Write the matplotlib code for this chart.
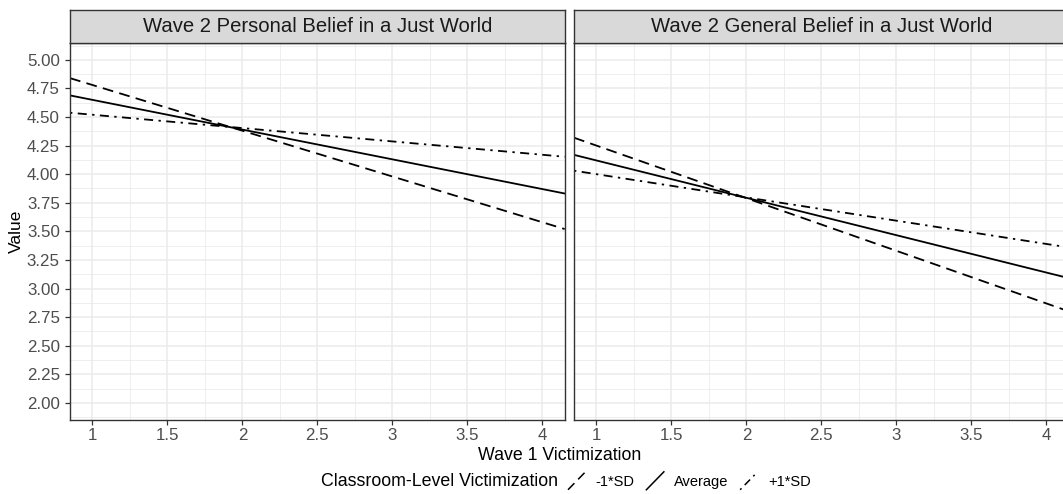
import matplotlib

matplotlib.use("Agg")
import matplotlib.pyplot as plt
from matplotlib.legend_handler import HandlerBase
from matplotlib.lines import Line2D
from matplotlib.ticker import MultipleLocator

plt.rcParams["font.family"] = ["Liberation Sans", "DejaVu Sans"]

# Data: predicted Wave 2 belief at Wave 1 victimization = 1 and = 4
PANELS = ["Wave 2 Personal Belief in a Just World", "Wave 2 General Belief in a Just World"]
X_POINTS = [1, 4]
GROUPS = ["-1*SD", "Average", "+1*SD"]
PERSONAL = {"-1*SD": [4.78, 3.58], "Average": [4.65, 3.87], "+1*SD": [4.52, 4.17]}
GENERAL = {"-1*SD": [4.25, 2.87], "Average": [4.12, 3.14], "+1*SD": [4.00, 3.39]}
X_TICKS = [1, 1.5, 2, 2.5, 3, 3.5, 4]
Y_TICKS = [2.00, 2.25, 2.50, 2.75, 3.00, 3.25, 3.50, 3.75, 4.00, 4.25, 4.50, 4.75, 5.00]

LINESTYLES = {
    "-1*SD": (0, (6, 3.5)),
    "Average": "-",
    "+1*SD": (0, (1.3, 3, 5, 3)),
}

W, H = 1063, 494
BORDER = "#333333"
GRID = "#EBEBEB"


class DiagonalHandler(HandlerBase):
    def create_artists(self, legend, orig_handle, xdescent, ydescent,
                       width, height, fontsize, trans):
        line = Line2D([-xdescent, -xdescent + width],
                      [-ydescent - height * 0.1, -ydescent + height * 1.1])
        self.update_prop(line, orig_handle, legend)
        line.set_transform(trans)
        return [line]


def px_box(left, top, width, height):
    return [left / W, 1 - (top + height) / H, width / W, height / H]


fig = plt.figure(figsize=(W / 100, H / 100), dpi=100)

panel_left = [70, 574]
panel_top, panel_bottom = 42.7, 420
panel_width = 494.7
strip_top = 10

axes = []
for i, (title, data) in enumerate(zip(PANELS, [PERSONAL, GENERAL])):
    ax = fig.add_axes(px_box(panel_left[i], panel_top, panel_width, panel_bottom - panel_top))
    ax.set_xlim(0.85, 4.15)
    ax.set_ylim(1.85, 5.15)
    ax.set_xticks(X_TICKS)
    ax.set_xticklabels([f"{t:g}" for t in X_TICKS])
    ax.set_yticks(Y_TICKS)
    ax.xaxis.set_minor_locator(MultipleLocator(0.25))
    ax.yaxis.set_minor_locator(MultipleLocator(0.125))
    ax.grid(True, which="major", color=GRID, linewidth=1.1, zorder=0)
    ax.grid(True, which="minor", color=GRID, linewidth=0.6, zorder=0)
    ax.set_axisbelow(True)
    ax.tick_params(which="minor", length=0)
    ax.tick_params(which="major", length=3.8, width=0.9, color=BORDER,
                   labelsize=12.2, labelcolor="#4D4D4D", pad=3.5)
    ax.tick_params(axis="x", pad=2.0)
    for spine in ax.spines.values():
        spine.set_color(BORDER)
        spine.set_linewidth(1.0)
    if i == 0:
        ax.set_yticklabels([f"{t:.2f}" for t in Y_TICKS])
        ax.set_ylabel("Value", fontsize=12.5, labelpad=2)
    else:
        ax.tick_params(axis="y", left=False, labelleft=False)

    for group in GROUPS:
        ys = data[group]
        ax.axline((X_POINTS[0], ys[0]), (X_POINTS[1], ys[1]), color="black",
                  linewidth=1.3, linestyle=LINESTYLES[group], label=group)

    strip = fig.add_axes(px_box(panel_left[i], strip_top, panel_width, panel_top - strip_top))
    strip.set_facecolor("#D9D9D9")
    strip.set_xticks([])
    strip.set_yticks([])
    for spine in strip.spines.values():
        spine.set_color(BORDER)
        spine.set_linewidth(1.0)
    strip.text(0.5, 0.5, title, ha="center", va="center", fontsize=14.6, color="#1A1A1A",
               transform=strip.transAxes)
    axes.append(ax)

fig.text(560 / W, 1 - 455 / H, "Wave 1 Victimization", ha="center", va="center", fontsize=12.8)

fig.text(321 / W, 1 - 481 / H, "Classroom-Level Victimization", ha="left", va="center",
         fontsize=12.8)
handles = [Line2D([], [], color="black", linewidth=1.1, linestyle=LINESTYLES[g]) for g in GROUPS]
fig.legend(handles, GROUPS, loc="center left", bbox_to_anchor=(568 / W, 1 - 481 / H),
           ncol=3, frameon=False, fontsize=10.5, handlelength=1.2, handleheight=1.2,
           handletextpad=0.7, columnspacing=0.8, borderpad=0, borderaxespad=0,
           handler_map={Line2D: DiagonalHandler()})

fig.savefig("out.png", dpi=100)
